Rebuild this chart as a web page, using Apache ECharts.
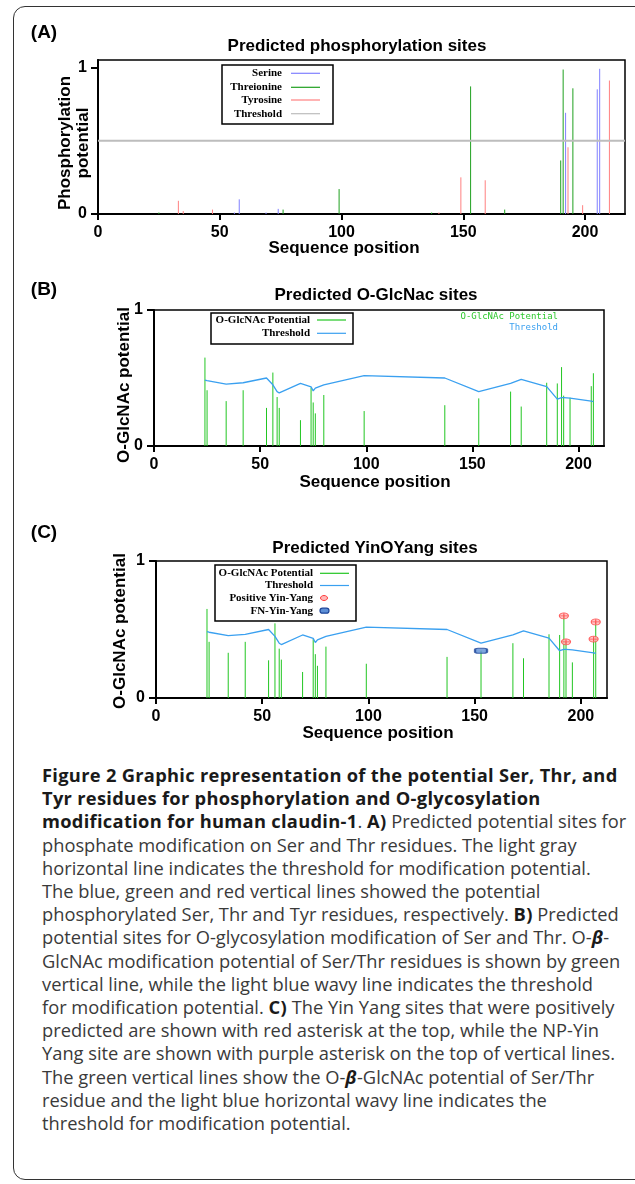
<!DOCTYPE html>
<html>
<head>
<meta charset="utf-8">
<script src="https://cdn.jsdelivr.net/npm/echarts@6/dist/echarts.min.js"></script>
<style>
  html, body { margin: 0; padding: 0; background: #fff; overflow: hidden; }
  #page { position: relative; width: 635px; height: 1184px; overflow: hidden; }
  #frame { position: absolute; left: 13px; top: 6px; width: 640px; height: 1174px;
           border: 1.5px solid #333; border-radius: 12px; box-sizing: border-box; }
  #chart { position: absolute; left: 0; top: 0; width: 635px; height: 750px; }
  #caption { position: absolute; left: 42px; top: 763px; font-family: "Open Sans", "Noto Sans", sans-serif;
             font-size: 18.3px; line-height: 23.2px; color: #3a3a3a; }
  #caption div { white-space: nowrap; }
  #caption b { color: #1a1a1a; letter-spacing: 0.3px; }
</style>
</head>
<body>
<div id="page">
  <div id="frame"></div>
  <div id="chart"></div>
  <div id="caption">
    <div><b>Figure 2 Graphic representation of the potential Ser, Thr, and</b></div>
    <div><b>Tyr residues for phosphorylation and O-glycosylation</b></div>
    <div><b>modification for human claudin-1</b>. <b>A)</b> Predicted potential sites for</div>
    <div>phosphate modification on Ser and Thr residues. The light gray</div>
    <div>horizontal line indicates the threshold for modification potential.</div>
    <div>The blue, green and red vertical lines showed the potential</div>
    <div>phosphorylated Ser, Thr and Tyr residues, respectively. <b>B)</b> Predicted</div>
    <div>potential sites for O-glycosylation modification of Ser and Thr. O-<b><i>&beta;</i></b>-</div>
    <div>GlcNAc modification potential of Ser/Thr residues is shown by green</div>
    <div>vertical line, while the light blue wavy line indicates the threshold</div>
    <div>for modification potential. <b>C)</b> The Yin Yang sites that were positively</div>
    <div>predicted are shown with red asterisk at the top, while the NP-Yin</div>
    <div>Yang site are shown with purple asterisk on the top of vertical lines.</div>
    <div>The green vertical lines show the O-<b><i>&beta;</i></b>-GlcNAc potential of Ser/Thr</div>
    <div>residue and the light blue horizontal wavy line indicates the</div>
    <div>threshold for modification potential.</div>
  </div>
</div>
<script>
// (A) phosphorylation potential per residue type
var serPos = [56, 58, 69, 74, 192, 205, 206];
var serVal = [0.01, 0.10, 0.01, 0.035, 0.69, 0.85, 0.99];
var thrPos = [25, 76, 99, 137, 153, 167, 190, 191, 195];
var thrVal = [0.01, 0.03, 0.17, 0.01, 0.87, 0.03, 0.365, 0.985, 0.857];
var tyrPos = [33, 35, 47, 140, 149, 159, 193, 199, 210];
var tyrVal = [0.09, 0.02, 0.03, 0.01, 0.25, 0.23, 0.455, 0.06, 0.91];
var phosThreshold = 0.5;

// (B) and (C) O-GlcNAc potential, sites share positions
var glcPos = [24, 25, 34, 42, 53, 56, 58, 59, 69, 74, 75, 76, 80, 99, 137, 153, 168, 173, 185, 190, 192, 193, 196, 206, 207];
var glcValB = [0.65, 0.41, 0.33, 0.41, 0.28, 0.54, 0.36, 0.28, 0.19, 0.43, 0.32, 0.24, 0.375, 0.257, 0.30, 0.35, 0.40, 0.29, 0.465, 0.46, 0.58, 0.37, 0.355, 0.44, 0.535];
var glcValC = [0.65, 0.41, 0.33, 0.41, 0.275, 0.545, 0.36, 0.28, 0.19, 0.43, 0.32, 0.235, 0.375, 0.25, 0.30, 0.345, 0.40, 0.29, 0.465, 0.46, 0.60, 0.41, 0.26, 0.43, 0.555];
var glcThreshold = [0.485, 0.48, 0.455, 0.465, 0.50, 0.45, 0.40, 0.39, 0.46, 0.435, 0.405, 0.425, 0.45, 0.517, 0.50, 0.40, 0.46, 0.49, 0.437, 0.345, 0.355, 0.355, 0.352, 0.33, 0.326];

// (C) YinOYang markers
var yinYangPos = [192, 193, 206, 207];
var yinYangVal = [0.60, 0.41, 0.43, 0.555];
var fnYinYangPos = [153];
var fnYinYangVal = [0.345];

var xTicks = [0, 50, 100, 150, 200];
var yTicks = [0, 1];
var xMax = [216.4, 212, 212.3];
var yMax = [1.05, 1, 1];

var sans = '"Liberation Sans", Arial, sans-serif';
var serif = '"Liberation Serif", "Times New Roman", serif';

var chart = echarts.init(document.getElementById('chart'));

function pairs(xs, ys) {
  return xs.map(function (x, i) { return [x, ys[i]]; });
}

// vertical stem from 0 to value
function stems(name, idx, xs, ys, color, width) {
  return {
    type: 'custom', name: name, xAxisIndex: idx, yAxisIndex: idx, silent: true,
    data: pairs(xs, ys),
    renderItem: function (params, api) {
      var top = api.coord([api.value(0), api.value(1)]);
      var base = api.coord([api.value(0), 0]);
      return {
        type: 'line',
        shape: { x1: base[0], y1: base[1], x2: top[0], y2: top[1] },
        style: { stroke: color, lineWidth: width }
      };
    }
  };
}

function xAxis(idx) {
  return {
    type: 'value', gridIndex: idx, min: 0, max: xMax[idx],
    axisLine: { lineStyle: { color: '#000', width: 2 } },
    axisTick: { length: 6, customValues: xTicks, lineStyle: { color: '#000', width: 2 } },
    axisLabel: { customValues: xTicks, margin: 11, color: '#000', fontFamily: sans, fontWeight: 'bold', fontSize: 16 },
    splitLine: { show: false }
  };
}
function yAxis(idx) {
  return {
    type: 'value', gridIndex: idx, min: 0, max: yMax[idx],
    axisLine: { show: true, lineStyle: { color: '#000', width: 2 } },
    axisTick: { show: true, length: 7, customValues: yTicks, lineStyle: { color: '#000', width: 2 } },
    axisLabel: { customValues: yTicks, margin: 11, color: '#000', fontFamily: sans, fontWeight: 'bold', fontSize: 16 },
    splitLine: { show: false }
  };
}

function txt(text, x, y, size, extra) {
  var el = {
    type: 'text', x: x, y: y, z: 20,
    style: { text: text, fontFamily: sans, fontWeight: 'bold', fontSize: size, fill: '#000',
             align: 'center', verticalAlign: 'middle', lineHeight: 18 }
  };
  if (extra) Object.keys(extra).forEach(function (k) { el[k] = extra[k]; });
  return el;
}

function legendBox(box, textRight, sampleX, rows) {
  var els = [{
    type: 'rect', z: 30,
    shape: { x: box[0], y: box[1], width: box[2], height: box[3] },
    style: { fill: '#fff', stroke: '#000', lineWidth: 1.5 }
  }];
  rows.forEach(function (r) {
    els.push({
      type: 'text', x: textRight, y: r.y, z: 31,
      style: { text: r.text, fontFamily: serif, fontWeight: 'bold', fontSize: 11, fill: '#000',
               align: 'right', verticalAlign: 'middle' }
    });
    if (r.kind === 'line') {
      els.push({ type: 'line', z: 31, shape: { x1: sampleX, y1: r.y, x2: sampleX + 29, y2: r.y },
                 style: { stroke: r.color, lineWidth: 1.2 } });
    } else if (r.kind === 'dot') {
      els.push({ type: 'ellipse', z: 31, shape: { cx: sampleX + 4, cy: r.y, rx: 3.5, ry: 2.5 },
                 style: { fill: '#ffb8b8', stroke: '#ff3b3b', lineWidth: 1 } });
    } else {
      els.push({ type: 'rect', z: 31, shape: { x: sampleX, y: r.y - 2.5, width: 9, height: 5, r: 2.5 },
                 style: { fill: '#5d8fd6', stroke: '#1d4599', lineWidth: 1.2 } });
    }
  });
  return els;
}

var graphics = [
  txt('(A)', 44, 33, 19),
  txt('(B)', 44, 290, 19),
  txt('(C)', 44, 533, 19),
  txt('Predicted phosphorylation sites', 357, 46, 17),
  txt('Predicted O-GlcNac sites', 376, 295, 17),
  txt('Predicted YinOYang sites', 375, 548, 17),
  txt('Sequence position', 344, 248, 17),
  txt('Sequence position', 375, 482, 17),
  txt('Sequence position', 378, 733, 17),
  txt('Phosphorylation\npotential', 74, 143, 17, { rotation: Math.PI / 2 }),
  txt('O-GlcNAc potential', 124, 385, 17, { rotation: Math.PI / 2 }),
  txt('O-GlcNAc potential', 120, 631, 17, { rotation: Math.PI / 2 }),
  { type: 'text', x: 558, y: 317, z: 20,
    style: { text: 'O-GlcNAc Potential', fontFamily: '"DejaVu Sans Mono", monospace', fontSize: 9,
             fill: '#2ec82e', align: 'right', verticalAlign: 'middle' } },
  { type: 'text', x: 558, y: 327.5, z: 20,
    style: { text: 'Threshold', fontFamily: '"DejaVu Sans Mono", monospace', fontSize: 9,
             fill: '#3aa0f0', align: 'right', verticalAlign: 'middle' } }
].concat(
  legendBox([222, 65, 111, 59], 282, 291, [
    { text: 'Serine', y: 73.3, kind: 'line', color: '#8080ff' },
    { text: 'Threionine', y: 87.3, kind: 'line', color: '#1fa01f' },
    { text: 'Tyrosine', y: 100, kind: 'line', color: '#ff8080' },
    { text: 'Threshold', y: 113.7, kind: 'line', color: '#bdbdbd' }
  ]),
  legendBox([211, 313, 142, 31], 310, 317, [
    { text: 'O-GlcNAc Potential', y: 320, kind: 'line', color: '#22c622' },
    { text: 'Threshold', y: 333.3, kind: 'line', color: '#3aa0f0' }
  ]),
  legendBox([215, 565, 141, 56], 313, 320, [
    { text: 'O-GlcNAc Potential', y: 573.3, kind: 'line', color: '#22c622' },
    { text: 'Threshold', y: 585.5, kind: 'line', color: '#3aa0f0' },
    { text: 'Positive Yin-Yang', y: 598, kind: 'dot' },
    { text: 'FN-Yin-Yang', y: 610.7, kind: 'capsule' }
  ])
);

var option = {
  animation: false,
  grid: [
    { left: 98, top: 60, width: 527, height: 154, show: true, borderColor: '#000', borderWidth: 1.5 },
    { left: 154, top: 310, width: 450, height: 136, show: true, borderColor: '#000', borderWidth: 1.5 },
    { left: 156, top: 561, width: 451, height: 137, show: true, borderColor: '#000', borderWidth: 1.5 }
  ],
  xAxis: [xAxis(0), xAxis(1), xAxis(2)],
  yAxis: [yAxis(0), yAxis(1), yAxis(2)],
  graphic: graphics,
  series: [
    {
      type: 'line', name: 'Threshold', xAxisIndex: 0, yAxisIndex: 0, silent: true, symbol: 'none',
      data: [[0, phosThreshold], [xMax[0], phosThreshold]],
      lineStyle: { color: '#bdbdbd', width: 2 }
    },
    stems('Serine', 0, serPos, serVal, '#8080ff', 1),
    stems('Threionine', 0, thrPos, thrVal, '#1fa01f', 1),
    stems('Tyrosine', 0, tyrPos, tyrVal, '#ff8080', 1),

    stems('O-GlcNAc Potential', 1, glcPos, glcValB, '#22c622', 1),
    {
      type: 'line', name: 'Threshold B', xAxisIndex: 1, yAxisIndex: 1, silent: true, symbol: 'none',
      data: pairs(glcPos, glcThreshold), lineStyle: { color: '#3aa0f0', width: 1.3 }
    },

    stems('O-GlcNAc Potential C', 2, glcPos, glcValC, '#22c622', 1),
    {
      type: 'line', name: 'Threshold C', xAxisIndex: 2, yAxisIndex: 2, silent: true, symbol: 'none',
      data: pairs(glcPos, glcThreshold), lineStyle: { color: '#3aa0f0', width: 1.3 }
    },
    {
      type: 'scatter', name: 'Positive Yin-Yang', xAxisIndex: 2, yAxisIndex: 2, silent: true, z: 5,
      data: pairs(yinYangPos, yinYangVal),
      symbol: 'path://M0,1A1,1 0 1 1 2,1A1,1 0 1 1 0,1ZM1,0.2V1.8M0.2,1H1.8', symbolSize: [9, 6],
      itemStyle: { color: '#ffb8b8', borderColor: '#ff3b3b', borderWidth: 1 }
    },
    {
      type: 'scatter', name: 'FN-Yin-Yang', xAxisIndex: 2, yAxisIndex: 2, silent: true, z: 5,
      data: pairs(fnYinYangPos, fnYinYangVal),
      symbol: 'roundRect', symbolSize: [12, 5],
      itemStyle: { color: '#5d8fd6', borderColor: '#1d4599', borderWidth: 1.5 }
    }
  ]
};

chart.setOption(option);
window.addEventListener('resize', function () { chart.resize(); });
</script>
</body>
</html>
